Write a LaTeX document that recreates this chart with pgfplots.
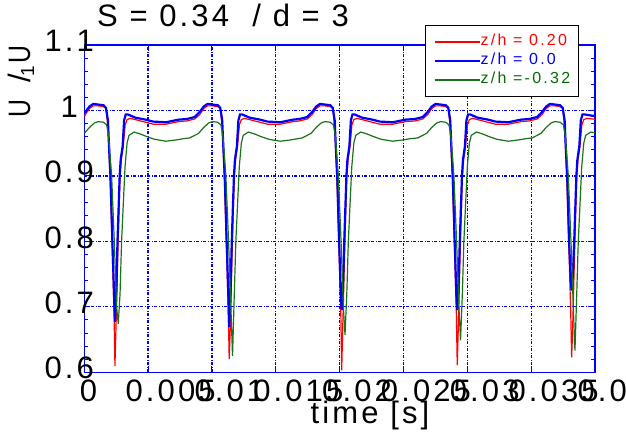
\documentclass[border=0pt]{standalone}
\usepackage{pgfplots}
\pgfplotsset{compat=1.18}
\usepackage{fontspec}
\setmainfont{Liberation Sans}
\newfontfamily\lsfont[LetterSpace=10]{Liberation Sans}
\newfontfamily\lgfont[LetterSpace=14]{Liberation Sans}
\usetikzlibrary{calc}
\definecolor{gline}{RGB}{25,115,25}
\definecolor{gtext}{RGB}{0,110,0}
\newcommand{\xl}[1]{\makebox[0.5\width][l]{#1}}
\begin{document}
\begin{tikzpicture}
\begin{axis}[
 scale only axis, width=510.7pt, height=327.3pt,
 xmin=0, xmax=40, ymin=0.6, ymax=1.1,
 xtick={0,5,10,15,20,25,30,35,40},
 xticklabels={\xl{0},\xl{0.005},\xl{0.01},\xl{0.015},\xl{0.02},\xl{0.025},\xl{0.03},\xl{0.035},\xl{0.04}},
 ytick={0.6,0.7,0.8,0.9,1.0,1.1},
 yticklabels={0.6,0.7,0.8,0.9,1,1.1},
 minor y tick num=4,
 tick align=inside, tick pos=both,
 major tick length=6pt, minor tick length=4pt,
 axis line style={blue, line width=1.2pt},
 every tick/.style={blue, line width=1pt},
 grid=major,
 major grid style={blue, line width=1.3pt, dash pattern=on 3pt off 1.5pt on 1pt off 1.5pt},
 x tick label style={font=\fontsize{31}{31}\lsfont, anchor=north, inner sep=0pt, yshift=-7pt},
 y tick label style={font=\fontsize{31}{31}\lsfont, anchor=center, inner sep=0pt, xshift=-15pt, yshift=4pt},
 title={S = 0.34 \ / d = 3},
 title style={at={(axis description cs:0.0249,1.0367)}, anchor=base west, font=\fontsize{31}{31}\lsfont, inner sep=0pt},
 xlabel={time [s]},
 xlabel style={at={(axis description cs:0.5594,-0.1549)}, anchor=base, font=\fontsize{31}{31}\lsfont, inner sep=0pt},
 ylabel={\scalebox{0.8}[1]{U}\ \ /\kern-3pt\raisebox{-4pt}{\fontsize{19}{19}\selectfont 1}\kern3pt\scalebox{0.8}[1]{U}},
 ylabel style={at={(axis description cs:-0.124,0.8885)}, anchor=center, font=\fontsize{31}{31}\selectfont, inner sep=0pt},
 legend style={at={(axis description cs:0.6672,1.0611)}, anchor=north west, draw=black, line width=0.8pt, fill=white,
   font=\fontsize{16}{16}\lgfont, inner xsep=8pt, inner ysep=8.5pt, row sep=3pt,
   nodes={inner sep=0pt, text height=12pt, text depth=4pt}},
 legend cell align=left,
 legend image code/.code={\draw[#1] (0pt,0pt) -- (45pt,0pt);},
]
\addplot[red, line width=1.2pt] coordinates {
(0,0.990)(0.10,0.994)(0.40,1.003)(0.70,1.007)(1.10,1.007)(1.50,1.006)(1.70,1.003)(1.85,0.975)(1.95,0.93)(2.05,0.88)(2.20,0.78)(2.33,0.69)(2.40,0.610)(2.47,0.66)(2.55,0.72)(2.65,0.80)(2.80,0.90)(2.90,0.925)(3.05,0.945)(3.20,0.978)(3.35,0.986)(3.60,0.988)(4.00,0.986)(4.80,0.982)(5.40,0.979)(6.40,0.979)(7.40,0.983)
(8.05,0.984)(8.65,0.987)(9.05,0.994)(9.35,1.003)(9.65,1.007)(10.05,1.007)(10.45,1.006)(10.65,1.003)(10.80,0.975)(10.90,0.93)(11.00,0.88)(11.15,0.78)(11.28,0.69)(11.35,0.620)(11.42,0.66)(11.50,0.72)(11.60,0.80)(11.75,0.90)(11.85,0.925)(12.00,0.945)(12.15,0.978)(12.30,0.986)(12.55,0.988)(12.95,0.986)(13.75,0.982)(14.35,0.979)(15.35,0.979)(16.35,0.983)
(16.86,0.984)(17.46,0.987)(17.86,0.994)(18.16,1.003)(18.46,1.007)(18.86,1.007)(19.26,1.006)(19.46,1.003)(19.61,0.975)(19.71,0.93)(19.81,0.88)(19.96,0.78)(20.09,0.69)(20.16,0.603)(20.23,0.66)(20.31,0.72)(20.41,0.80)(20.56,0.90)(20.66,0.925)(20.81,0.945)(20.96,0.978)(21.11,0.986)(21.36,0.988)(21.76,0.986)(22.56,0.982)(23.16,0.979)(24.16,0.979)(25.16,0.983)
(25.91,0.984)(26.51,0.987)(26.91,0.994)(27.21,1.003)(27.51,1.007)(27.91,1.007)(28.31,1.006)(28.51,1.003)(28.66,0.975)(28.76,0.93)(28.86,0.88)(29.01,0.78)(29.14,0.69)(29.21,0.611)(29.28,0.66)(29.36,0.72)(29.46,0.80)(29.61,0.90)(29.71,0.925)(29.86,0.945)(30.01,0.978)(30.16,0.986)(30.41,0.988)(30.81,0.986)(31.61,0.982)(32.21,0.979)(33.21,0.979)(34.21,0.983)
(34.87,0.984)(35.47,0.987)(35.87,0.994)(36.17,1.003)(36.47,1.007)(36.87,1.007)(37.27,1.006)(37.47,1.003)(37.62,0.975)(37.72,0.93)(37.82,0.88)(37.97,0.78)(38.10,0.69)(38.17,0.623)(38.24,0.66)(38.32,0.72)(38.42,0.80)(38.57,0.90)(38.67,0.925)(38.82,0.945)(38.97,0.978)(39.12,0.986)(39.37,0.988)(39.77,0.987)(40,0.987)
};
\addlegendentry{\textcolor{red}{z/h = 0.20}}
\addplot[blue, line width=2.2pt] coordinates {
(0,0.996)(0.10,0.998)(0.40,1.006)(0.70,1.010)(1.10,1.009)(1.50,1.008)(1.70,1.004)(1.85,0.985)(1.95,0.94)(2.05,0.90)(2.20,0.80)(2.33,0.72)(2.40,0.677)(2.50,0.72)(2.60,0.80)(2.77,0.90)(2.85,0.925)(3.00,0.945)(3.12,0.985)(3.25,0.994)(3.40,0.994)(4.00,0.989)(4.80,0.986)(5.40,0.983)(6.40,0.982)(7.40,0.986)
(8.05,0.987)(8.65,0.990)(9.05,0.998)(9.35,1.006)(9.65,1.010)(10.05,1.009)(10.45,1.008)(10.65,1.004)(10.80,0.985)(10.90,0.94)(11.00,0.90)(11.15,0.80)(11.28,0.72)(11.35,0.669)(11.45,0.72)(11.55,0.80)(11.72,0.90)(11.80,0.925)(11.95,0.945)(12.07,0.985)(12.20,0.994)(12.35,0.994)(12.95,0.989)(13.75,0.986)(14.35,0.983)(15.35,0.982)(16.35,0.986)
(16.86,0.987)(17.46,0.990)(17.86,0.998)(18.16,1.006)(18.46,1.010)(18.86,1.009)(19.26,1.008)(19.46,1.004)(19.61,0.985)(19.71,0.94)(19.81,0.90)(19.96,0.80)(20.09,0.72)(20.16,0.695)(20.26,0.73)(20.36,0.80)(20.53,0.90)(20.61,0.925)(20.76,0.945)(20.88,0.985)(21.01,0.994)(21.16,0.994)(21.76,0.989)(22.56,0.986)(23.16,0.983)(24.16,0.982)(25.16,0.986)
(25.91,0.987)(26.51,0.990)(26.91,0.998)(27.21,1.006)(27.51,1.010)(27.91,1.009)(28.31,1.008)(28.51,1.004)(28.66,0.985)(28.76,0.94)(28.86,0.90)(29.01,0.80)(29.14,0.72)(29.21,0.695)(29.31,0.73)(29.41,0.80)(29.58,0.90)(29.66,0.925)(29.81,0.945)(29.93,0.985)(30.06,0.994)(30.21,0.994)(30.81,0.989)(31.61,0.986)(32.21,0.983)(33.21,0.982)(34.21,0.986)
(34.87,0.987)(35.47,0.990)(35.87,0.998)(36.17,1.006)(36.47,1.010)(36.87,1.009)(37.27,1.008)(37.47,1.004)(37.62,0.985)(37.72,0.94)(37.82,0.90)(37.97,0.80)(38.10,0.74)(38.17,0.725)(38.27,0.75)(38.37,0.80)(38.54,0.90)(38.62,0.925)(38.77,0.945)(38.89,0.985)(39.02,0.994)(39.17,0.994)(39.77,0.992)(40,0.992)
};
\addlegendentry{\textcolor{blue}{z/h = 0.0}}
\addplot[gline, line width=1.2pt] coordinates {
(0,0.965)(0.40,0.974)(0.80,0.981)(1.10,0.983)(1.50,0.982)(1.75,0.978)(1.90,0.962)(2.14,0.90)(2.35,0.80)(2.53,0.70)(2.66,0.674)(2.80,0.72)(2.92,0.80)(3.19,0.914)(3.35,0.950)(3.50,0.962)(3.90,0.967)(4.40,0.964)(4.90,0.960)(5.50,0.956)(6.40,0.953)(7.20,0.955)(7.80,0.957)
(8.25,0.958)(8.95,0.965)(9.35,0.974)(9.75,0.981)(10.05,0.983)(10.45,0.982)(10.70,0.978)(10.85,0.962)(11.09,0.90)(11.30,0.80)(11.48,0.70)(11.61,0.625)(11.75,0.72)(11.87,0.80)(12.14,0.914)(12.30,0.950)(12.45,0.962)(12.85,0.967)(13.35,0.964)(13.85,0.960)(14.45,0.956)(15.35,0.953)(16.15,0.955)(16.75,0.957)
(17.06,0.958)(17.76,0.965)(18.16,0.974)(18.56,0.981)(18.86,0.983)(19.26,0.982)(19.51,0.978)(19.66,0.962)(19.90,0.90)(20.11,0.80)(20.29,0.70)(20.42,0.657)(20.56,0.72)(20.68,0.80)(20.95,0.914)(21.11,0.950)(21.26,0.962)(21.66,0.967)(22.16,0.964)(22.66,0.960)(23.26,0.956)(24.16,0.953)(24.96,0.955)(25.56,0.957)
(26.11,0.958)(26.81,0.965)(27.21,0.974)(27.61,0.981)(27.91,0.983)(28.31,0.982)(28.56,0.978)(28.71,0.962)(28.95,0.90)(29.16,0.80)(29.34,0.70)(29.47,0.649)(29.61,0.72)(29.73,0.80)(30.00,0.914)(30.16,0.950)(30.31,0.962)(30.71,0.967)(31.21,0.964)(31.71,0.960)(32.31,0.956)(33.21,0.953)(34.01,0.955)(34.61,0.957)
(35.07,0.958)(35.77,0.965)(36.17,0.974)(36.57,0.981)(36.87,0.983)(37.27,0.982)(37.52,0.978)(37.67,0.962)(37.91,0.90)(38.12,0.80)(38.30,0.70)(38.43,0.633)(38.57,0.72)(38.69,0.80)(38.96,0.914)(39.12,0.950)(39.27,0.962)(39.67,0.967)(40,0.966)
};
\addlegendentry{\textcolor{gtext}{z/h =-0.32}}
\end{axis}
\path[use as bounding box] ($(current axis.south west)+(-84.3pt,-61.7pt)$) rectangle ($(current axis.south west)+(541.7pt,372.3pt)$);
\end{tikzpicture}
\end{document}
